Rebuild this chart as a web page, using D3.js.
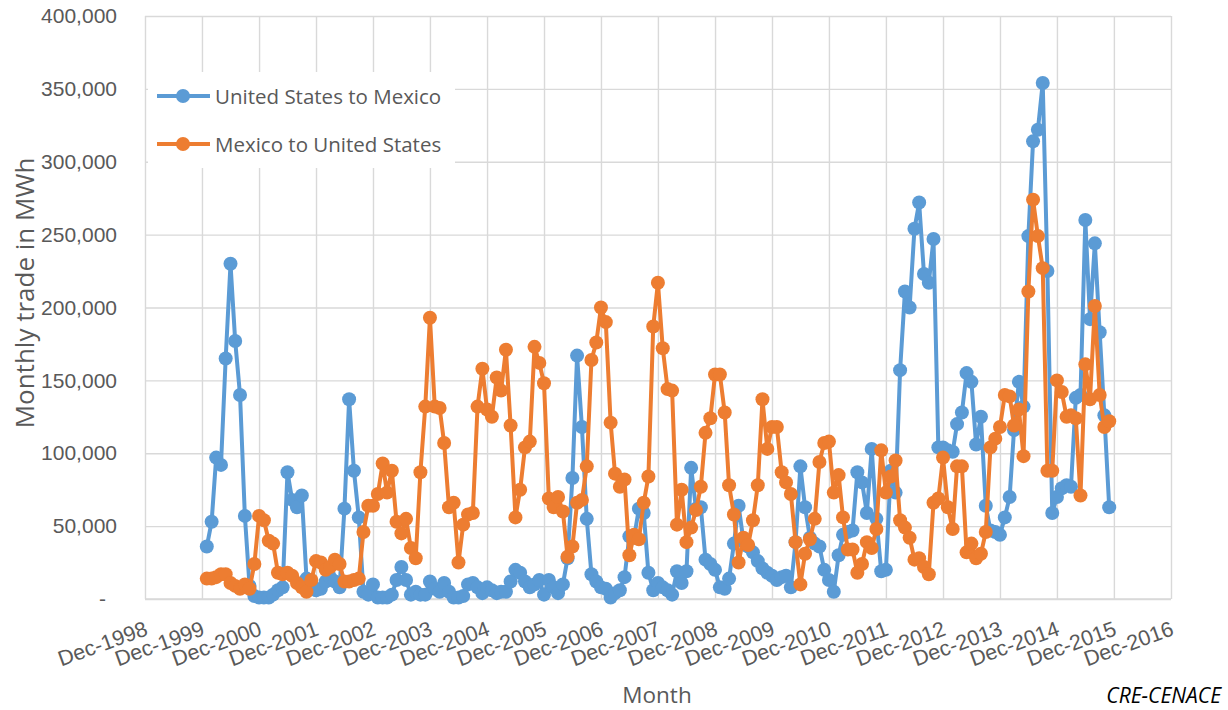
<!DOCTYPE html>
<html>
<head>
<meta charset="utf-8">
<script src="https://cdn.jsdelivr.net/npm/d3@7"></script>
<style>
  body { margin: 0; background: #ffffff; }
  svg { display: block; font-family: "Open Sans", sans-serif; }
</style>
</head>
<body>
<svg id="chart" width="1228" height="710"></svg>
<script>
// Monthly electricity trade across the US–Mexico border, MWh.
// Series run monthly from January 2000 to November 2015.
const firstMonth = new Date(2000, 0, 1);

const usToMexico = [
  36000, 53000, 97000, 92000, 165000, 230000, 177000, 140000, 57000, 9000, 2000, 1000,      // 2000
  1000, 1000, 3000, 6000, 8000, 87000, 68000, 63000, 71000, 14000, 10000, 6000,            // 2001
  7000, 12000, 15000, 12000, 8000, 62000, 137000, 88000, 56000, 5000, 3000, 10000,         // 2002
  1000, 1000, 1000, 3000, 13000, 22000, 13000, 3000, 5000, 3000, 3000, 12000,              // 2003
  7000, 5000, 11000, 5000, 1000, 1000, 2000, 10000, 11000, 8000, 4000, 8000,               // 2004
  6000, 4000, 5000, 5000, 12000, 20000, 18000, 12000, 8000, 10000, 13000, 3000,            // 2005
  13000, 8000, 4000, 10000, 28000, 83000, 167000, 118000, 55000, 17000, 12000, 8000,       // 2006
  7000, 1000, 4000, 6000, 15000, 43000, 42000, 62000, 59000, 18000, 6000, 11000,           // 2007
  8000, 6000, 3000, 19000, 11000, 19000, 90000, 62000, 63000, 27000, 24000, 20000,         // 2008
  8000, 7000, 14000, 38000, 64000, 40000, 36000, 32000, 26000, 21000, 18000, 16000,        // 2009
  13000, 15000, 16000, 8000, 39000, 91000, 63000, 42000, 38000, 36000, 20000, 13000,       // 2010
  5000, 30000, 44000, 46000, 47000, 87000, 80000, 59000, 103000, 55000, 19000, 20000,      // 2011
  88000, 73000, 157000, 211000, 200000, 254000, 272000, 223000, 217000, 247000, 104000, 104000, // 2012
  102000, 101000, 120000, 128000, 155000, 149000, 106000, 125000, 64000, 47000, 46000, 44000,   // 2013
  56000, 70000, 116000, 149000, 132000, 249000, 314000, 322000, 354000, 225000, 59000, 70000,   // 2014
  76000, 78000, 77000, 138000, 140000, 260000, 192000, 244000, 183000, 126000, 63000            // 2015
];

const mexicoToUs = [
  14000, 14000, 15000, 17000, 17000, 11000, 9000, 7000, 10000, 7000, 24000, 57000,          // 2000
  54000, 40000, 38000, 18000, 17000, 18000, 16000, 11000, 8000, 5000, 13000, 26000,         // 2001
  25000, 20000, 22000, 27000, 24000, 12000, 12000, 13000, 14000, 46000, 64000, 64000,       // 2002
  72000, 93000, 73000, 88000, 53000, 45000, 55000, 35000, 28000, 87000, 132000, 193000,     // 2003
  132000, 131000, 107000, 63000, 66000, 25000, 51000, 58000, 59000, 132000, 158000, 130000, // 2004
  125000, 152000, 143000, 171000, 119000, 56000, 75000, 104000, 108000, 173000, 162000, 148000, // 2005
  69000, 63000, 70000, 60000, 29000, 36000, 66000, 68000, 91000, 164000, 176000, 200000,    // 2006
  190000, 121000, 86000, 77000, 82000, 30000, 44000, 41000, 66000, 84000, 187000, 217000,   // 2007
  172000, 144000, 143000, 51000, 75000, 39000, 49000, 61000, 77000, 114000, 124000, 154000, // 2008
  154000, 128000, 78000, 58000, 25000, 42000, 37000, 54000, 78000, 137000, 103000, 118000,  // 2009
  118000, 87000, 80000, 72000, 39000, 10000, 31000, 41000, 55000, 94000, 107000, 108000,    // 2010
  73000, 85000, 56000, 34000, 34000, 18000, 24000, 39000, 35000, 48000, 102000, 73000,      // 2011
  84000, 95000, 54000, 49000, 42000, 27000, 28000, 22000, 17000, 66000, 69000, 97000,       // 2012
  63000, 48000, 91000, 91000, 32000, 38000, 28000, 31000, 46000, 104000, 110000, 118000,    // 2013
  140000, 139000, 119000, 130000, 98000, 211000, 274000, 249000, 227000, 88000, 88000, 150000, // 2014
  142000, 125000, 126000, 124000, 71000, 161000, 137000, 201000, 140000, 118000, 122000     // 2015
];

const seriesNames = ["United States to Mexico", "Mexico to United States"];
const seriesColors = ["#5b9bd5", "#ed7d31"];
const yTicks = [0, 50000, 100000, 150000, 200000, 250000, 300000, 350000, 400000];
const xTickYears = [1998, 1999, 2000, 2001, 2002, 2003, 2004, 2005, 2006, 2007,
                    2008, 2009, 2010, 2011, 2012, 2013, 2014, 2015, 2016];

// Layout
const W = 1228, H = 710;
const plot = { left: 145, right: 1171, top: 16, bottom: 599 };
const gridColor = "#d9d9d9";
const textColor = "#595959";

const svg = d3.select("#chart");
svg.append("rect").attr("width", W).attr("height", H).attr("fill", "#ffffff");

const x = d3.scaleTime()
  .domain([new Date(1998, 11, 1), new Date(2016, 11, 1)])
  .range([plot.left, plot.right]);

const y = d3.scaleLinear()
  .domain([0, 400000])
  .range([plot.bottom, plot.top]);

const toSeries = vals => vals.map((v, i) => ({ date: d3.timeMonth.offset(firstMonth, i), value: v }));
const series = [toSeries(usToMexico), toSeries(mexicoToUs)];

// Y axis with horizontal gridlines
const yAxis = svg.append("g")
  .attr("transform", `translate(${plot.left},0)`)
  .call(d3.axisLeft(y)
    .tickValues(yTicks)
    .tickSize(-(plot.right - plot.left))
    .tickPadding(28)
    .tickFormat(v => v === 0 ? "-" : d3.format(",")(v)));
yAxis.select(".domain").remove();
yAxis.selectAll(".tick line").attr("stroke", gridColor).attr("stroke-width", 1.4);
yAxis.selectAll(".tick text")
  .attr("fill", textColor)
  .style("font-size", "21px")
  .attr("dx", v => v === 0 ? -11 : 0);

// X axis with vertical gridlines and slanted labels
const xTicks = xTickYears.map(yr => new Date(yr, 11, 1));
const xAxis = svg.append("g")
  .attr("transform", `translate(0,${plot.bottom})`)
  .call(d3.axisBottom(x)
    .tickValues(xTicks)
    .tickSize(-(plot.bottom - plot.top))
    .tickFormat(d3.timeFormat("%b-%Y")));
xAxis.select(".domain").remove();
xAxis.selectAll(".tick line").attr("stroke", gridColor).attr("stroke-width", 1.4);
xAxis.selectAll(".tick text")
  .attr("x", 0).attr("y", 0).attr("dy", null)
  .attr("text-anchor", "end")
  .attr("dominant-baseline", "central")
  .attr("transform", "translate(1,29) rotate(-20)")
  .attr("fill", textColor)
  .style("font-size", "21.5px");

// Baseline along the bottom of the plot
svg.append("line")
  .attr("x1", plot.left).attr("x2", plot.right)
  .attr("y1", plot.bottom).attr("y2", plot.bottom)
  .attr("stroke", gridColor).attr("stroke-width", 1.6);

// Series: line then markers, second series drawn on top
const line = d3.line().x(d => x(d.date)).y(d => y(d.value));
series.forEach((data, k) => {
  const g = svg.append("g");
  g.append("path")
    .datum(data)
    .attr("fill", "none")
    .attr("stroke", seriesColors[k])
    .attr("stroke-width", 4)
    .attr("stroke-linejoin", "round")
    .attr("d", line);
  g.selectAll("circle")
    .data(data)
    .join("circle")
    .attr("cx", d => x(d.date))
    .attr("cy", d => y(d.value))
    .attr("r", 7)
    .attr("fill", seriesColors[k]);
});

// Legend
const legend = svg.append("g");
legend.append("rect")
  .attr("x", 148).attr("y", 72).attr("width", 307).attr("height", 96)
  .attr("fill", "#ffffff");
seriesNames.forEach((name, k) => {
  const ly = 96 + k * 48;
  legend.append("line")
    .attr("x1", 157).attr("x2", 210).attr("y1", ly).attr("y2", ly)
    .attr("stroke", seriesColors[k]).attr("stroke-width", 4);
  legend.append("circle")
    .attr("cx", 183).attr("cy", ly).attr("r", 7).attr("fill", seriesColors[k]);
  legend.append("text")
    .attr("x", 215).attr("y", ly)
    .attr("dominant-baseline", "central")
    .attr("fill", textColor)
    .style("font-size", "20.5px")
    .text(name);
});

// Axis titles and source
svg.append("text")
  .attr("transform", `translate(24,293) rotate(-90)`)
  .attr("text-anchor", "middle")
  .attr("dominant-baseline", "central")
  .attr("fill", textColor)
  .style("font-size", "26px")
  .text("Monthly trade in MWh");

svg.append("text")
  .attr("x", 657).attr("y", 703)
  .attr("text-anchor", "middle")
  .attr("fill", textColor)
  .style("font-size", "22.5px")
  .text("Month");

svg.append("text")
  .attr("x", 1221).attr("y", 703)
  .attr("text-anchor", "end")
  .attr("fill", "#000000")
  .style("font-size", "21px")
  .style("font-style", "italic")
  .text("CRE-CENACE");
</script>
</body>
</html>
